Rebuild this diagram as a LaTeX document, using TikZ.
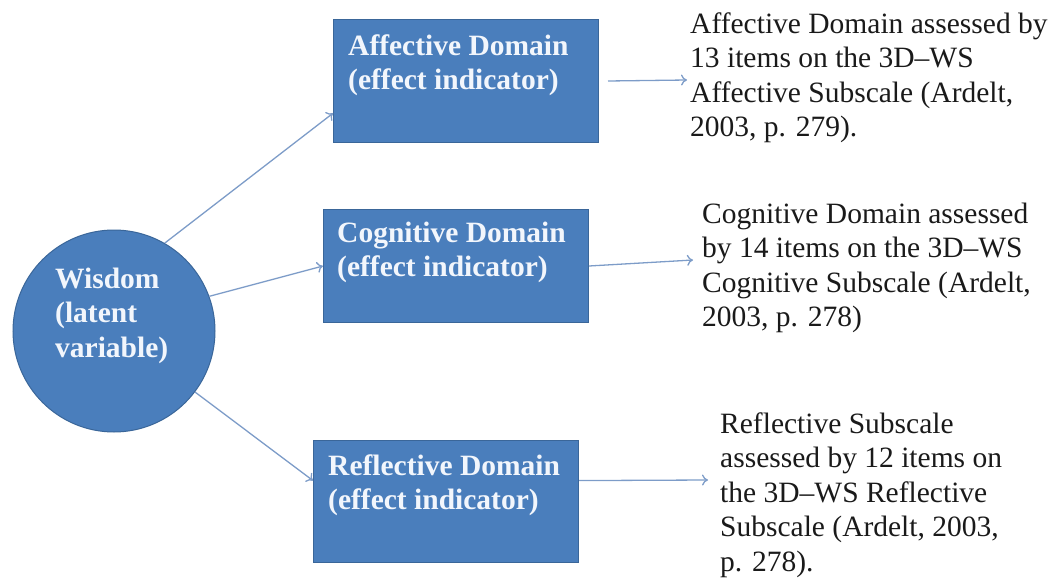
\documentclass[tikz,border=0pt]{standalone}
\usepackage{fontspec}
\setmainfont{Liberation Serif}
\usetikzlibrary{arrows.meta,calc}
\definecolor{boxfill}{HTML}{4A7EBC}
\definecolor{boxline}{HTML}{3A6699}
\definecolor{boxtext}{HTML}{F2F6FC}
\definecolor{arrowc}{HTML}{7D9CC8}
\definecolor{bodytext}{HTML}{1A1A1A}
\tikzset{
  domainbox/.style={draw=boxline, line width=1pt, fill=boxfill, anchor=north west, inner sep=0pt},
  boxlabel/.style={anchor=north west, inner sep=0pt, align=left, text=boxtext,
    font=\fontsize{29.5}{34.5}\selectfont\bfseries},
  desc/.style={anchor=north west, inner sep=0pt, align=left, text=bodytext,
    font=\fontsize{29.5}{34.5}\selectfont},
  link/.style={draw=arrowc, line width=1.3pt, -{To[length=6pt,width=11pt,line width=1.3pt]}},
}
\begin{document}
\begin{tikzpicture}[x=1pt,y=-1pt]
\useasboundingbox (0,0) rectangle (1058,578);
% circle
\node[circle, draw=boxline, line width=1pt, fill=boxfill, minimum size=202pt, inner sep=0pt] (w) at (114,331) {};
\node[boxlabel] (wt) at (55,264) {\strut Wisdom\\(latent\\variable)};
% boxes
\node[domainbox, minimum width=265pt, minimum height=123pt] (aff) at (333,19) {};
\node[boxlabel] (afft) at (348,31) {\strut Affective Domain\\(effect indicator)};
\node[domainbox, minimum width=265pt, minimum height=113pt] (cog) at (323,209) {};
\node[boxlabel] (cogt) at (337,218) {\strut Cognitive Domain\\(effect indicator)};
\node[domainbox, minimum width=265pt, minimum height=122pt] (ref) at (313,440) {};
\node[boxlabel] (reft) at (328,451) {\strut Reflective Domain\\(effect indicator)};
% descriptions
\node[desc] (d1) at (690,9) {\strut Affective Domain assessed by\\13 items on the 3D--WS\\Affective Subscale (Ardelt,\\2003, p. 279).};
\node[desc] (d2) at (702,199) {\strut Cognitive Domain assessed\\by 14 items on the 3D--WS\\Cognitive Subscale (Ardelt,\\2003, p. 278)};
\node[desc] (d3) at (720,409) {\strut Reflective Subscale\\assessed by 12 items on\\the 3D--WS Reflective\\Subscale (Ardelt, 2003,\\p. 278).};
% arrow end points
\coordinate (e1) at (687,80);
\coordinate (e2) at (693,260);
\coordinate (e3) at (708,480);
% connectors from circle
\draw[link] (w.60) -- ($(aff.south west)!0.24!(aff.north west)$);
\draw[link] (w.20) -- (cog.west);
\draw[link] (w.-37) -- ($(ref.north west)!0.33!(ref.south west)$);
% connectors to descriptions
\draw[link] ([xshift=9pt]aff.east) -- (e1);
\draw[link] (cog.east) -- (e2);
\draw[link] ($(ref.north east)!0.33!(ref.south east)$) -- (e3);
\end{tikzpicture}
\end{document}
